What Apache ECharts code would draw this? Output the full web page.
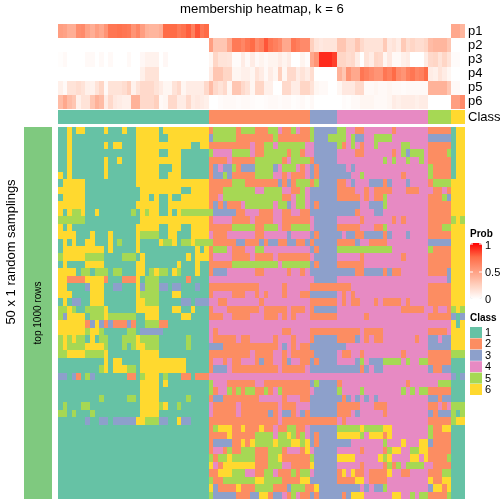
<!DOCTYPE html>
<html><head><meta charset="utf-8">
<script src="https://cdn.jsdelivr.net/npm/echarts@6/dist/echarts.min.js"></script>
<style>html,body{margin:0;padding:0;background:#fff}#c{width:504px;height:504px}</style>
</head><body><div id="c"></div>
<script>
const probNames = ['p1','p2','p3','p4','p5','p6'];
const classLabels = ['1','2','3','4','5','6'];
const classColors = ['#66C2A5','#FC8D62','#8DA0CB','#E78AC3','#A6D854','#FFD92F'];
const classCounts = [33,22,6,20,5,3];
const probTicks = ['1','0.5','0'];
const probRamp = ['#ffffff','#FFD0BE','#FF9E81','#FF6C47','#ff0000'];
const p1 = [.5,.48,.42,.42,.58,.6,.48,.42,.5,.45,.55,.7,.7,.72,.7,.68,.55,.62,.5,.4,.38,.38,.42,.75,.75,.75,.68,.72,.78,.65,.8,.7,.75,
 0,0,0,0,0,0,0,0,0,0,0,0,0,0,0,0,0,0,0,0,0,0,0,0,0,0,0,0,0,0,0,0,0,0,0,0,0,0,0,0,0,0,0,0,0,0,0,0,0,0,0,0,0,
 .45,.45,.38];
const p2 = [0,0,0,0,0,0,0,0,0,0,0,0,0,0,0,0,0,0,0,0,0,0,0,0,0,0,0,0,0,0,0,0,0,
 .5,.3,.3,.3,.45,.68,.68,.62,.7,.75,.6,.65,.8,.7,.65,.6,.45,.45,.7,.65,.6,.6,
 .25,.15,.12,.14,.14,.14,
 .3,.3,.2,.2,.3,.2,.15,.15,.15,.15,.28,.12,.15,.1,.28,.18,.22,.18,.18,.22,
 .35,.38,.38,.38,.3,0,0,0];
const p3 = [.01,.03,0,0,0,0,.03,.03,0,.03,0,.03,0,0,0,.03,0,0,.04,.07,.07,.07,0,.04,0,0,0,0,0,0,0,0,0,
 .05,.22,.15,.15,.14,.02,.02,.1,.03,.1,.03,.06,.03,.06,.06,.1,.06,.1,0,0,.06,.02,
 .45,.55,.9,.9,.9,.85,
 .22,.22,.18,.2,.1,0,.15,.1,.22,.2,.05,.12,.03,.03,.08,.1,0,0,0,.1,
 .2,.22,.15,.22,.15,.02,.02,0];
const p4 = [0,0,0,0,0,0,0,0,0,0,0,0,0,0,0,0,0,0,.08,.15,.15,.15,0,0,0,0,0,0,0,0,0,0,0,
 .1,.3,.3,.22,.22,.05,.05,.08,.08,.05,.15,.1,.03,.1,.05,.25,.05,.2,.2,.1,.15,.1,
 .18,0,0,0,0,0,
 .4,.3,.55,.45,.45,.7,.65,.6,.55,.55,.7,.65,.75,.6,.55,.65,.7,.62,.65,.75,
 .1,.08,.15,.1,.05,0,0,0];
const p5 = [.08,.03,.15,.15,.18,.15,.08,.07,.15,.22,.03,.15,.15,.15,.18,.25,.07,.15,.2,.2,.2,.15,.1,.05,.05,.15,.2,.05,.1,.1,.1,.1,.2,
 .35,.2,.15,.2,.05,.3,.3,.2,.15,.05,.22,.22,.08,.08,0,0,.2,.2,.1,.1,.22,.22,
 .15,.05,.03,.03,0,0,
 .05,.12,.12,.12,.2,.2,.03,.03,.05,.03,.03,.05,.03,.03,.02,.03,.03,.03,.03,.03,
 .4,.4,.4,.4,.3,.03,.03,0];
const p6 = [.35,.45,.35,.3,.08,.15,.15,.3,.4,.35,.1,.2,.12,.1,.08,.08,.4,.4,.2,.2,.2,.25,.03,.05,.2,.2,.1,.1,.2,.1,.12,.1,.08,
 0,0,.02,.03,.03,.03,.02,.03,.03,.02,.01,.01,.02,.03,.03,.02,.03,.03,.01,.02,.03,.01,
 .03,0,0,0,0,0,
 0,.02,.01,.03,.03,.05,.05,.05,.03,.03,.03,.05,.1,.08,.1,.1,.1,.08,.1,.1,
 0,0,0,0,0,.5,.5,.6];
const memberRows = [
"T0 Y2 T3 Y4 T6 Y10 T11 Y14 T15 Y17 T22 Y23 O33 G34 O39 G40 O43 G46 P48 O49 G51 P52 O53 G55 B56 G61 P63 O65 P67 O73 P74 O81 T86 Y87",
"T0 Y2 T3 Y17 T22 Y24 B33 G34 O39 G47 O48 G55 B56 G59 P63 G64 B65 P67 G69 P73 B81 T86 Y87",
"T0 Y2 T3 Y10 T11 Y12 T14 Y17 T29 Y31 O33 P42 O43 G45 P47 G48 P54 B56 G61 O62 P63 G64 P65 O66 P67 G69 P70 G75 P77 O81 T86 Y87",
"T0 Y2 T3 Y17 T22 Y24 T27 G33 P34 G38 P42 O43 G45 O50 G51 O53 P54 B56 P61 O65 P67 O73 P74 G75 B76 G77 P80 O81 G85 T86 Y87",
"T0 Y2 T3 Y10 T11 Y13 T14 Y17 T27 O33 P37 O38 G43 O49 P50 G51 O55 B56 P61 G71 P72 G73 P74 G76 P77 G79 P80 O81 T86 Y87",
"T0 Y2 T3 Y10 T11 Y17 T22 Y25 T27 O33 B34 P35 B36 G38 O39 B40 G43 B47 P48 G49 P52 O53 P54 B55 O56 B57 P63 B64 P65 G81 O82 T86 Y87",
"Y0 T1 Y2 T3 Y10 T11 Y17 T22 Y24 T27 O33 B34 G36 B37 O38 G43 P47 O49 P50 O51 P54 B55 O56 B57 P64 G66 P67 O75 P76 G81 O82 T86 Y87",
"T0 Y1 T6 Y17 O33 G38 O41 B48 O49 B50 O51 G52 O55 G56 B57 O61 P63 B64 P65 B68 O71 B72 P73 B76 P77 O81 G82 Y86",
"Y0 T6 Y18 T27 Y29 O33 G36 P43 G45 P49 O51 G53 P54 B55 O61 P65 O67 P68 O69 P73 O76 P79 O82 P84 O85 Y86",
"T0 Y1 T6 Y18 T20 Y21 T22 Y24 T25 Y27 O33 P35 G36 O49 P51 G52 P54 B55 O61 P66 O67 P68 O69 G71 P72 O81 G84 B85 Y86",
"Y0 T6 Y17 T22 Y24 O33 B34 O35 B36 O37 P40 G41 P47 G48 B50 P51 G52 P54 B55 O56 B57 P66 B68 G71 P72 O81 Y86",
"Y0 T1 Y2 G3 Y5 T6 Y8 T9 G16 T17 Y18 G19 Y20 T22 Y24 T25 Y26 G27 G33 B34 O39 P41 O44 P47 O49 P51 O53 B55 O65 P66 B69 P71 O81 Y86",
"G0 T6 Y18 O33 P34 O38 P42 O43 P47 O49 P55 B56 P61 O66 P67 O73 P74 O75 P76 O81 G86 Y87 G88",
"Y0 T1 Y2 T3 Y17 T22 Y24 T27 Y29 O33 G38 O43 G45 P48 O49 G51 P55 B56 O61 P66 O69 G71 P72 O81 G84 Y86",
"Y0 T4 Y7 T8 Y11 T12 Y17 G18 T22 Y24 T26 Y29 P33 O34 P37 O43 P45 B50 P51 B55 O56 B57 P62 B63 O65 B67 O71 B72 P73 B76 P77 O81 Y86",
"T0 Y1 T2 Y3 T4 Y6 T8 Y11 T12 G13 T14 Y17 T18 Y22 G23 Y25 T26 G27 Y29 G30 G33 O34 B39 O41 B44 O45 B46 O48 B50 O52 B54 O55 B56 O61 B65 P66 O68 P72 B81 Y86",
"T0 Y1 T10 Y11 T12 Y17 T18 Y30 T31 Y32 O33 G34 P37 O38 P41 G43 P45 B55 O56 B57 G61 P73 G81 O82 Y86",
"G0 Y1 G6 T10 G14 T17 Y18 T19 Y28 T29 Y30 O33 P34 O38 P42 O43 P47 O48 P55 B56 P61 O66 P67 O75 P76 O81 Y86",
"T0 Y1 T2 Y6 T10 Y17 T19 Y26 T27 Y30 T31 O33 G38 P48 G49 B55 O56 B57 O61 P67 O81 Y86",
"Y0 T4 G5 T7 G8 T11 G12 T14 Y17 T19 G20 Y21 G22 T24 Y25 G26 T27 Y30 T31 O33 B34 P37 O43 P45 O50 P51 O53 P54 B55 O65 B67 O71 B72 O73 P75 O81 B85 Y86",
"Y0 O2 Y6 O10 T11 O14 Y17 T18 G19 T22 O28 T29 P33 B56 P61 B85 Y86",
"Y0 T2 B6 Y7 T10 B12 T14 Y17 B18 G19 B22 T24 B25 T27 B30 T31 O33 P44 O49 P50 O55 P64 O81 Y86",
"Y0 T3 Y7 T10 Y17 G18 T22 Y25 T27 O33 P34 O38 P41 O43 P44 O45 P46 O49 P50 O53 B55 P61 O62 P63 O64 P65 O81 Y86",
"T0 Y1 T2 B3 T5 Y7 T10 Y17 G19 T22 B27 T29 B30 P33 O35 P37 O44 P45 O55 P61 O62 P63 O64 P66 O69 P70 O71 P75 O76 P77 O81 Y86",
"G0 Y2 G3 T4 G6 Y10 T11 Y17 T22 Y25 T27 Y29 T30 O33 P34 O37 P44 O45 P50 O51 P54 O55 B56 P61 O75 P80 O82 P83 O85 G86 Y87 G88",
"G0 B1 Y2 T6 G7 Y10 G11 T17 Y19 T22 Y27 T29 O33 P36 O38 P42 O45 P48 O49 P50 O51 P52 O55 P61 O67 P68 O81 B86 T87 B88",
"Y0 O6 B7 Y8 B9 O10 B11 O12 B15 O16 T17 G19 O22 T24 P33 Y86 T87 Y88",
"Y0 G6 Y7 G9 T10 G15 T17 B18 T23 P33 O34 P35 O49 P51 O55 P66 O67 P71 O81 P85 Y86",
"G0 Y1 G2 Y3 G4 T6 Y7 T8 G9 T11 G14 Y17 G18 T22 G28 T29 P33 O34 P39 O40 P42 O47 P48 O51 P52 O55 B56 O61 B65 P66 O67 P68 O69 P71 O78 P79 B81 P83 B84 Y86",
"G0 Y1 G2 Y6 G10 T11 G14 T15 G16 Y17 G19 T22 G28 T29 B33 O36 P48 B49 P50 O51 P52 O53 B55 P63 B81 Y86",
"G0 Y2 G6 Y10 T11 Y18 T22 O33 P42 O43 P47 O49 P50 O51 B56 P61 O62 P64 O66 P67 O75 P76 O81 G86",
"T0 Y10 T11 Y12 T14 Y18 T28 O33 P34 O36 P37 O38 P40 O43 B44 O45 P47 O49 B50 P51 O53 B55 O56 B57 P61 B65 G66 P67 B68 G71 P75 G76 P77 G79 O81 T86",
"T0 G9 Y10 T11 Y12 G15 T17 Y18 T28 O33 B34 P37 O38 P48 O49 P54 B55 O66 B67 P68 B69 P71 B81 O82 B84 T86",
"B0 T2 B3 O4 T5 G6 B7 T8 O15 T17 G18 Y19 T22 G23 T24 O27 T29 O30 P33 B86 T87 B88",
"T0 Y18 T22 Y23 T24 G33 P34 O37 P43 O45 B55 G56 B57 O61 P62 O76 P77 G83 T86",
"T0 Y18 T22 G33 O34 P35 G37 O38 G39 O40 G41 O43 G45 O46 P47 G48 O49 P55 B56 G61 P62 G66 P67 G75 P76 G77 P78 G79 O81 T86",
"T0 G9 T10 G15 T17 Y18 T22 G28 T29 O33 B34 O36 P44 O49 P50 O53 B55 O62 B63 P64 B65 P66 B67 P68 B69 P70 B81 O83 B84 T86",
"T0 G1 T2 G5 T7 Y18 G22 Y23 T24 G26 T27 P33 O34 P39 O40 P48 O49 P52 B55 O61 P66 O69 P72 O81 P83 O84 P85 G86",
"G0 T2 G3 T4 G7 T8 Y18 T22 P33 O34 P39 O40 B46 O47 P48 B49 O51 P52 B53 O54 B55 O61 P64 B65 P66 O71 P72 B81 O82 B83 G86 T87 G88",
"T0 B6 T7 B9 T11 B12 Y17 G19 B22 T24 Y26 B27 T29 O33 P48 O49 P61 O62 P63 O81 G86 Y87",
"T0 O33 G34 Y35 O38 Y40 O41 Y44 O45 P47 O48 G50 O52 P54 B55 G61 Y66 G67 Y71 P73 G81 O82 Y84 T86",
"T0 O33 Y37 O38 G43 P47 G48 Y50 G51 O52 G53 P54 B55 O56 B57 Y61 G66 P67 Y68 O71 Y72 P73 G81 O82 T86",
"T0 O33 B34 O38 Y40 O41 Y42 G43 Y47 G48 Y51 G53 Y54 B55 O56 B57 P64 G71 P72 Y75 P76 Y79 B81 O82 T86",
"T0 O33 P34 O36 G37 O38 G40 O43 G46 O49 P50 O53 Y54 P55 B56 P61 O66 P67 O71 G72 Y73 P75 G77 Y79 O81 T86",
"T0 G33 O34 G35 Y37 G38 O43 G46 Y48 O49 G55 B56 Y61 P65 Y70 G71 Y72 P73 Y77 P79 Y80 O81 G85 T86",
"T0 Y33 P34 O35 Y36 O43 G46 P49 O51 Y55 B56 P61 O66 P67 O71 G72 O73 G74 P75 G76 P80 O82 T86",
"T0 O33 Y35 G38 P41 O43 G45 P47 O48 G51 O52 G53 P55 B56 O61 Y62 P63 Y64 O65 P67 O68 Y72 P73 O75 P77 O81 G84 T86",
"T0 G33 O34 G36 Y43 G45 O49 Y53 B55 O61 Y65 P67 O68 P72 Y81 O82 Y84 T86",
"T0 Y33 B34 O35 Y39 O40 G43 O47 B50 G51 O54 Y56 B57 P66 B67 P68 B69 G71 P72 B81 Y82 O84 Y85 T86",
"T0 G33 B34 O39 B42 Y44 O46 B47 P49 O50 G51 P52 O53 B55 O56 B57 O62 B63 Y64 P67 Y73 P75 G77 P78 G79 O81 G85 T86"
];
const letterClass = {T:1,O:2,B:3,P:4,G:5,Y:6};
const nCols = p1.length, nRows = memberRows.length;
const cols = Array.from({length:nCols},(_,i)=>i);
const rows = Array.from({length:nRows},(_,i)=>i);
const mainData = [];
memberRows.forEach((s,r)=>{
  const toks = s.split(' ').map(t=>[letterClass[t[0]],+t.slice(1)]);
  toks.forEach((t,k)=>{
    const end = k+1<toks.length ? toks[k+1][1] : nCols;
    for(let c=t[1];c<end;c++) mainData.push([c,r,t[0]]);
  });
});
const probData = [];
[p1,p2,p3,p4,p5,p6].forEach((a,r)=>a.forEach((v,c)=>probData.push([c,r,v])));
const classData = [];
{let c=0; classCounts.forEach((n,k)=>{for(let i=0;i<n;i++) classData.push([c++,0,k+1]);});}

// Cells snap to whole pixels, which keeps edges crisp with no seams between neighbours
const cellRenderer=colorOf=>(params,api)=>{
  const p=api.coord([api.value(0),api.value(1)]), s=api.size([1,1]);
  const x0=Math.round(p[0]-s[0]/2), x1=Math.round(p[0]+s[0]/2);
  const y0=Math.round(p[1]-s[1]/2), y1=Math.round(p[1]+s[1]/2);
  return {type:'rect',shape:{x:x0,y:y0,width:x1-x0,height:y1-y0},style:{fill:colorOf(api.value(2))}};
};
const classFill=v=>classColors[v-1];
const probFill=v=>echarts.color.lerp(v,probRamp);

const FONT='"Liberation Sans"';
const grids=[
 {left:58,top:24,width:407,height:85},
 {left:58,top:110,width:407,height:14},
 {left:58,top:127,width:407,height:372},
 {left:24,top:127,width:28,height:372}
];
const ax=(type,data,gridIndex,extra)=>Object.assign({type,data,gridIndex,show:false},extra||{});
const chart=echarts.init(document.getElementById('c'),null,{renderer:'canvas'});
const txt=(x,y,s,o)=>({type:'text',x,y,z:20,silent:true,style:Object.assign({text:s,fontFamily:FONT,fontSize:11,fill:'#000',textVerticalAlign:'middle'},o||{})});
const graphics=[
 txt(262,9,'membership heatmap, k = 6',{fontSize:13.2,textAlign:'center'}),
 {type:'text',x:11,y:252,z:20,rotation:Math.PI/2,silent:true,style:{text:'50 x 1 random samplings',fontFamily:FONT,fontSize:13,textAlign:'center',textVerticalAlign:'middle',fill:'#000'}},
 {type:'text',x:38,y:313,z:20,rotation:Math.PI/2,silent:true,style:{text:'top 1000 rows',fontFamily:FONT,fontSize:10,textAlign:'center',textVerticalAlign:'middle',fill:'#000'}},
 txt(470,234,'Prob',{fontSize:10,fontWeight:'bold'}),
 txt(470,318,'Class',{fontSize:10,fontWeight:'bold'}),
 {type:'line',z:20,silent:true,shape:{x1:470,y1:244,x2:473,y2:244},style:{stroke:'#fff',lineWidth:1}},
 {type:'line',z:20,silent:true,shape:{x1:479,y1:244,x2:482,y2:244},style:{stroke:'#fff',lineWidth:1}},
 {type:'line',z:20,silent:true,shape:{x1:470,y1:272,x2:473,y2:272},style:{stroke:'#fff',lineWidth:1}},
 {type:'line',z:20,silent:true,shape:{x1:479,y1:272,x2:482,y2:272},style:{stroke:'#fff',lineWidth:1}}
];
probNames.forEach((n,i)=>graphics.push(txt(468,31+14.17*i,n,{fontSize:13})));
graphics.push(txt(468,117,'Class',{fontSize:13}));
probTicks.forEach((t,i)=>graphics.push(txt(485,246+27*i,t,{fontSize:11})));
classLabels.forEach((t,i)=>{
 graphics.push({type:'rect',z:20,silent:true,shape:{x:470,y:327+11.4*i,width:12,height:11},style:{fill:classColors[i]}});
 graphics.push(txt(485,333+11.4*i,t,{fontSize:11}));
});
const cellSeries=(axisIndex,data,colorOf)=>({type:'custom',xAxisIndex:axisIndex,yAxisIndex:axisIndex,data,encode:{x:0,y:1},silent:true,progressive:0,renderItem:cellRenderer(colorOf)});
chart.setOption({
 animation:false,
 backgroundColor:'#fff',
 grid:grids,
 xAxis:[ax('category',cols,0),ax('category',cols,1),ax('category',cols,2),ax('category',['a'],3)],
 yAxis:[ax('category',probNames,0,{inverse:true}),ax('category',['Class'],1),ax('category',rows,2,{inverse:true}),ax('category',['top 1000 rows'],3)],
 visualMap:[
  {type:'continuous',seriesIndex:0,dimension:2,min:0,max:1,left:470,top:243,itemWidth:12,itemHeight:56,text:null,calculable:false,hoverLink:false,realtime:false,
   inRange:{color:probRamp},textStyle:{fontSize:0,color:'transparent'},padding:0}
 ],
 series:[
  cellSeries(0,probData,probFill),
  cellSeries(1,classData,classFill),
  cellSeries(2,mainData,classFill),
  cellSeries(3,[[0,0,1]],()=>'#7FC97F')
 ],
 graphic:graphics
});
</script></body></html>
